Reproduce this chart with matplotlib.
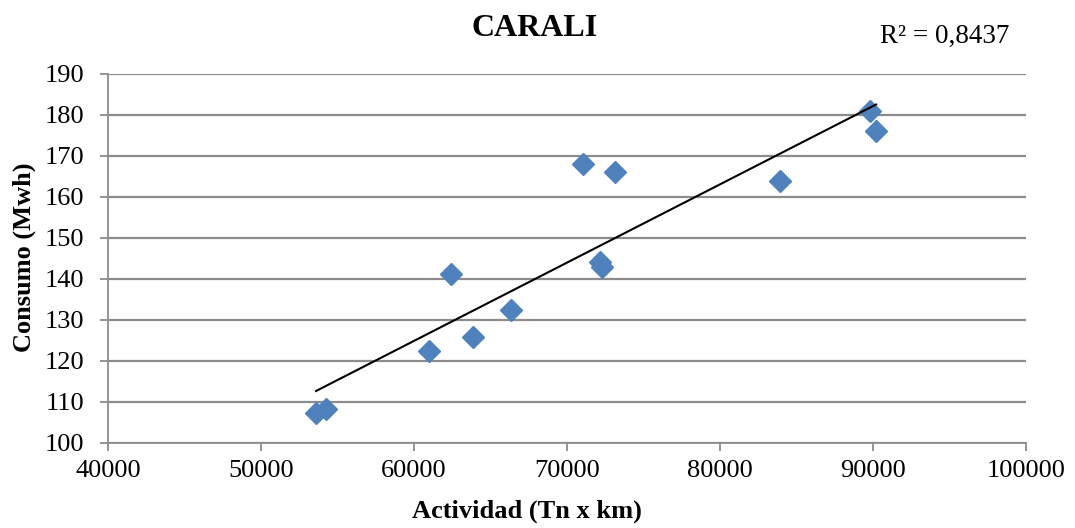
import numpy as np
import matplotlib
matplotlib.use("Agg")
import matplotlib.pyplot as plt

# Activity (Tn x km) and consumption (MWh) for CARALI
actividad = [53600, 54250, 60960, 62420, 63880, 66320, 71020, 72160, 72270,
             73150, 83940, 89800, 90200]
consumo = [107.2, 108.2, 122.5, 141.1, 125.8, 132.4, 168.0, 144.2, 142.9,
           166.2, 164.0, 181.0, 176.0]

x_ticks = [40000, 50000, 60000, 70000, 80000, 90000, 100000]
y_ticks = [100, 110, 120, 130, 140, 150, 160, 170, 180, 190]
r2_text = "R² = 0,8437"

plt.rcParams['font.family'] = ['Liberation Serif', 'DejaVu Serif']

W, H = 1075, 528
fig = plt.figure(figsize=(W / 100, H / 100), dpi=100)
ax = fig.add_axes([108 / W, 1 - 443 / H, (1026 - 108) / W, (443 - 74) / H])

grid_c = '#8c8c8c'
ax.set_xlim(x_ticks[0], x_ticks[-1])
ax.set_ylim(y_ticks[0], y_ticks[-1])
ax.set_xticks(x_ticks)
ax.set_yticks(y_ticks)
ax.yaxis.grid(True, color=grid_c, linewidth=1.6)
ax.set_axisbelow(True)
for s in ['top', 'right']:
    ax.spines[s].set_visible(False)
for s in ['left', 'bottom']:
    ax.spines[s].set_color(grid_c)
    ax.spines[s].set_linewidth(1.3)
ax.tick_params(axis='both', direction='out', length=6, width=1.3, color=grid_c,
               labelsize=19)
ax.tick_params(axis='y', pad=11)
ax.tick_params(axis='x', pad=6)

# Linear trend line over the data range
coef = np.polyfit(actividad, consumo, 1)
xs = np.array([min(actividad), max(actividad)])
ax.plot(xs, np.polyval(coef, xs), color='black', linewidth=1.5, zorder=3)

ax.plot(actividad, consumo, linestyle='none', marker='D', markersize=11.5,
        color='#4f81bd', markeredgecolor='#4f81bd', zorder=2)

fig.text(527 / W, 1 - 511 / H, 'Actividad (Tn x km)', ha='center', va='center',
         fontsize=19, fontweight='bold')
fig.text(24 / W, 1 - 257 / H, 'Consumo (Mwh)', ha='center', va='center',
         rotation=90, fontsize=19, fontweight='bold')

fig.text(535 / W, 1 - 28 / H, 'CARALI', ha='center', va='center',
         fontsize=23, fontweight='bold')
fig.text(945 / W, 1 - 36 / H, r2_text, ha='center', va='center', fontsize=19.5)

fig.savefig('out.png', dpi=100)
